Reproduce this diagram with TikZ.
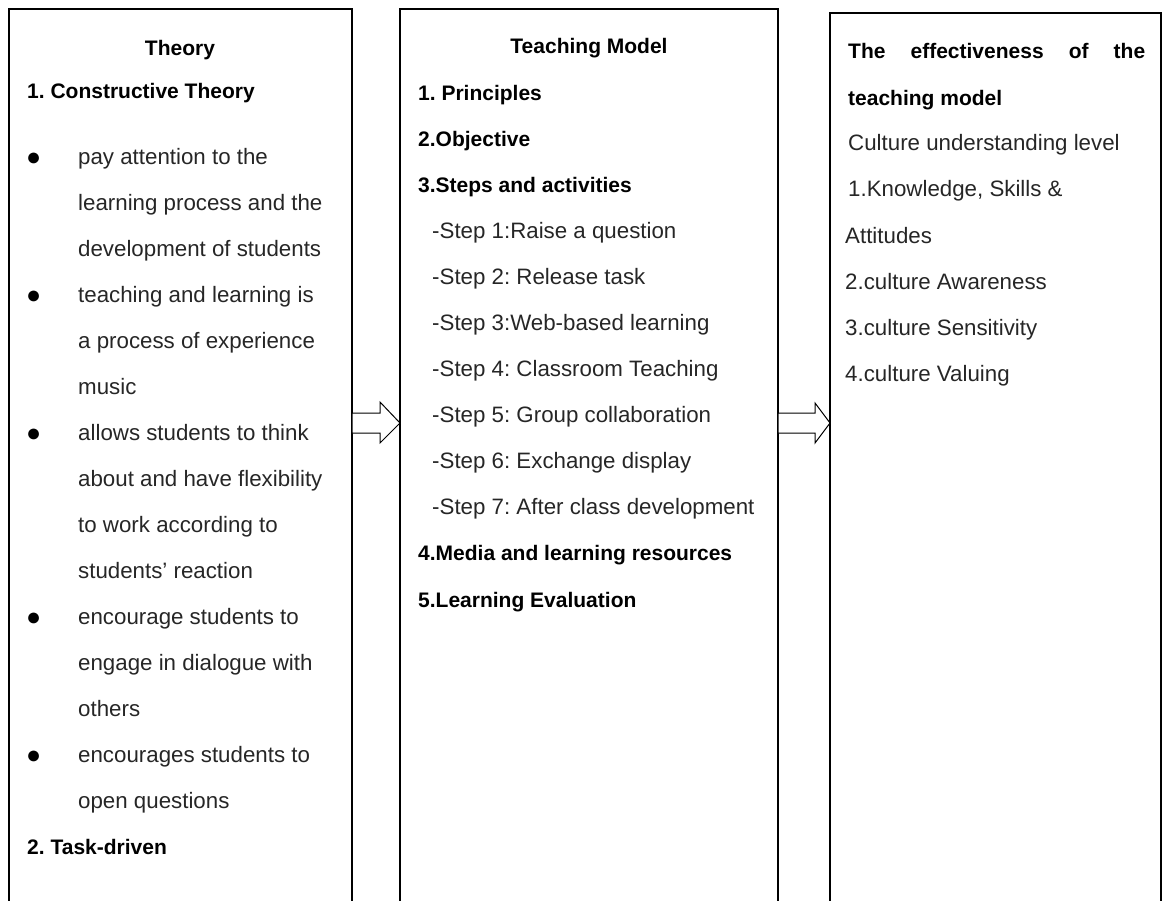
\documentclass[tikz,border=0pt]{standalone}
\usepackage{fontspec}
\setmainfont{Liberation Sans}
\usetikzlibrary{positioning}
\definecolor{bodytext}{HTML}{262626}
\frenchspacing

\begin{document}
\begin{tikzpicture}[x=1pt,y=-1pt,line join=miter,
  box/.style={draw,line width=1.3pt,anchor=north west,outer sep=0pt,inner sep=0pt},
  head/.style={font=\fontsize{21}{46}\selectfont\bfseries,text=black,inner sep=0pt},
  body/.style={font=\fontsize{22.3}{46}\selectfont,text=bodytext,inner sep=0pt,align=left,anchor=base west},
  dot/.style={font=\fontsize{25}{46}\selectfont,text=black,inner sep=0pt,anchor=base west},
  hollow/.style={draw,fill=white,line width=1pt}]
  \useasboundingbox (0,0) rectangle (1164,900);

  % theory column (multi-line nodes sit on the baseline of their last line)
  \node[box,minimum width=343,minimum height=930] (theory) at (9,9) {};
  \node[head,anchor=base] (ttitle) at (180,55) {Theory};
  \node[head,anchor=base west] (tcons) at (27,98) {1. Constructive Theory};
  \node[dot] (da) at (26,165) {●};
  \node[body] (ta) at (78,256) {pay attention to the\\learning process and the\\development of students};
  \node[dot] (db) at (26,303) {●};
  \node[body] (tb) at (78,394) {teaching and learning is\\a process of experience\\music};
  \node[dot] (dc) at (26,441) {●};
  \node[body] (tc) at (78,578) {allows students to think\\about and have flexibility\\to work according to\\students' reaction};
  \node[dot] (dd) at (26,625) {●};
  \node[body] (td) at (78,716) {encourage students to\\engage in dialogue with\\others};
  \node[dot] (de) at (26,763) {●};
  \node[body] (te) at (78,808) {encourages students to\\open questions};
  \node[head,anchor=base west] (ttask) at (27,854) {2. Task-driven};

  % teaching model column
  \node[box,minimum width=378,minimum height=930] (model) at (400,9) {};
  \node[head,anchor=base] (mtitle) at (589,53) {Teaching Model};
  \node[head,anchor=base west] (m1) at (418,100) {1. Principles};
  \node[head,anchor=base west] (m2) at (418,146) {2.Objective};
  \node[head,anchor=base west] (m3) at (418,192) {3.Steps and activities};
  \node[body] (steps) at (432,514) {-Step 1:Raise a question\\-Step 2: Release task\\-Step 3:Web-based learning\\-Step 4: Classroom Teaching\\-Step 5: Group collaboration\\-Step 6: Exchange display\\-Step 7: After class development};
  \node[head,anchor=base west] (m4) at (418,560) {4.Media and learning resources};
  \node[head,anchor=base west] (m5) at (418,607) {5.Learning Evaluation};

  % effectiveness column
  \node[box,minimum width=331,minimum height=930] (effect) at (830,13) {};
  \node[head,anchor=base west] (e1) at (848,58) {\makebox[297pt][s]{The effectiveness of the}};
  \node[head,anchor=base west] (e2) at (848,105) {teaching model};
  \node[body] (e3) at (848,196) {Culture understanding level\\1.Knowledge, Skills \&};
  \node[body] (e4) at (845,381) {Attitudes\\2.culture Awareness\\3.culture Sensitivity\\4.culture Valuing};

  % hollow arrows between the columns
  \draw[hollow] ([yshift=-404pt]theory.north east) -- ++(28,0) -- ++(0,-11)
    -- ([yshift=-414pt]model.north west) -- ++(-20,20) -- ++(0,-10)
    -- ([yshift=-424pt]theory.north east) -- cycle;
  \draw[hollow] ([yshift=-404pt]model.north east) -- ++(37,0) -- ++(0,-10)
    -- ([yshift=-410pt]effect.north west) -- ++(-15,20) -- ++(0,-10)
    -- ([yshift=-424pt]model.north east) -- cycle;
\end{tikzpicture}
\end{document}
